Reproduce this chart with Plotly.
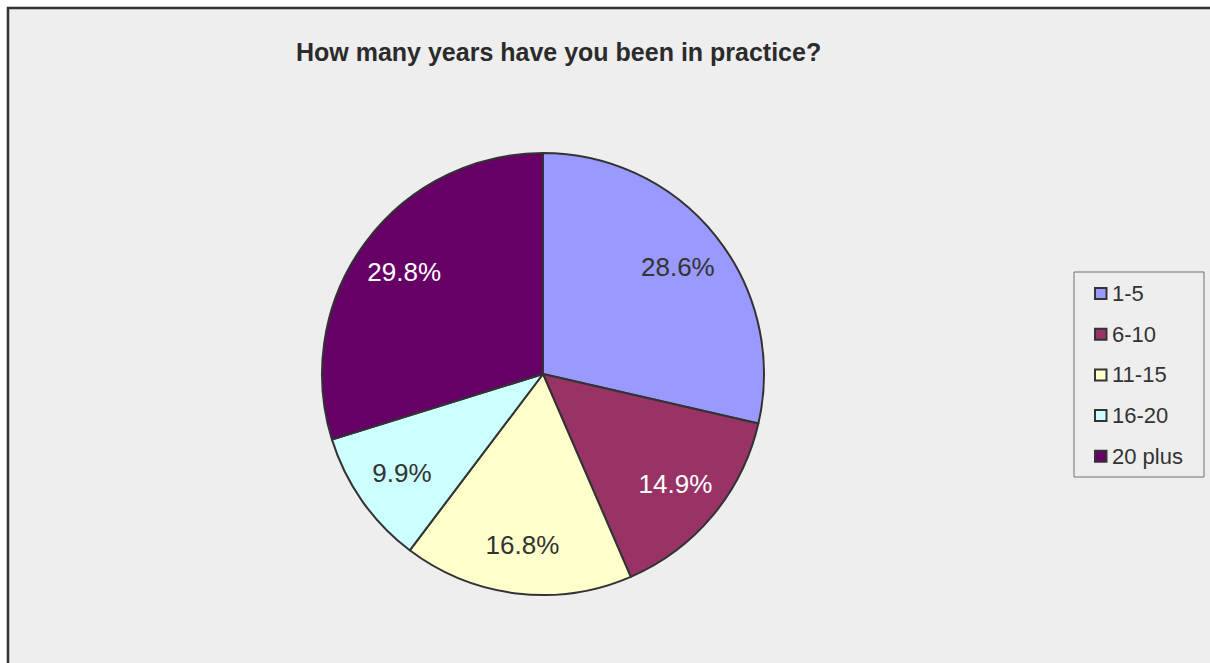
import plotly.graph_objects as go

# Survey data: years in practice
categories = ["1-5", "6-10", "11-15", "16-20", "20 plus"]
percentages = [28.6, 14.9, 16.8, 9.9, 29.8]
slice_colors = ["#9999FF", "#993366", "#FFFFCC", "#CCFFFF", "#660066"]
label_colors = ["#333333", "#FFFFFF", "#333333", "#333333", "#FFFFFF"]

W, H = 1210, 663
FONT = "Liberation Sans, Arial, sans-serif"


def px_x(x):
    return x / W


def px_y(y):
    return 1 - y / H


# pie placement (pixels)
cx, cy, r = 543, 374, 221
pie_domain = dict(x=[px_x(cx - r), px_x(cx + r)], y=[px_y(cy + r), px_y(cy - r)])

fig = go.Figure()
# the filled slices
fig.add_trace(go.Pie(
    labels=categories,
    values=percentages,
    sort=False,
    direction="clockwise",
    rotation=0,
    marker=dict(colors=slice_colors, line=dict(color="#333333", width=2)),
    textinfo="none",
    hoverinfo="label+percent",
    showlegend=False,
    domain=pie_domain,
))
# transparent ring on top that carries the percentage labels toward the rim
fig.add_trace(go.Pie(
    labels=categories,
    values=percentages,
    sort=False,
    direction="clockwise",
    rotation=0,
    hole=0.56,
    marker=dict(colors=["rgba(0,0,0,0)"] * len(categories),
                line=dict(color="rgba(0,0,0,0)", width=0)),
    texttemplate="%{value:.1f}%",
    textposition="inside",
    insidetextorientation="horizontal",
    insidetextfont=dict(family=FONT, size=[26] * len(categories), color=label_colors),
    hoverinfo="skip",
    showlegend=False,
    domain=pie_domain,
))

shapes = [
    # chart area with its frame
    dict(type="rect", xref="paper", yref="paper", layer="below",
         x0=px_x(8), x1=px_x(W + 20), y0=px_y(H + 20), y1=px_y(8),
         fillcolor="#EEEEEE", line=dict(color="#333333", width=2.5)),
    # legend box
    dict(type="rect", xref="paper", yref="paper",
         x0=px_x(1074), x1=px_x(1204), y0=px_y(477), y1=px_y(272),
         fillcolor="#EEEEEE", line=dict(color="#707070", width=1)),
]

annotations = [
    dict(text="<b>How many years have you been in practice?</b>",
         x=px_x(558), y=px_y(52), xref="paper", yref="paper",
         xanchor="center", yanchor="middle", showarrow=False,
         font=dict(family=FONT, size=25, color="#2B2B2B")),
]

# legend entries
leg_top, leg_step = 293.5, 40.7
for i, (name, col) in enumerate(zip(categories, slice_colors)):
    yc = leg_top + i * leg_step
    shapes.append(dict(type="rect", xref="paper", yref="paper",
                       x0=px_x(1095), x1=px_x(1106.5),
                       y0=px_y(yc + 5.5), y1=px_y(yc - 5.5),
                       fillcolor=col, line=dict(color="#333333", width=2)))
    annotations.append(dict(text=name, x=px_x(1110), y=px_y(yc),
                            xref="paper", yref="paper",
                            xanchor="left", yanchor="middle", showarrow=False,
                            font=dict(family=FONT, size=22, color="#333333")))

fig.update_layout(
    width=W, height=H,
    margin=dict(l=0, r=0, t=0, b=0),
    paper_bgcolor="#FFFFFF",
    plot_bgcolor="#FFFFFF",
    shapes=shapes,
    annotations=annotations,
    showlegend=False,
)

fig.write_html("out.html")
